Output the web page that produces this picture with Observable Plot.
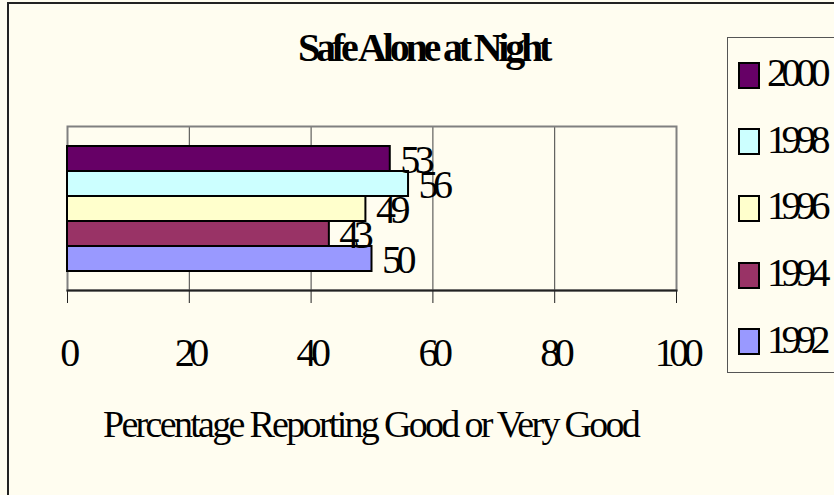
<!DOCTYPE html>
<html><head><meta charset="utf-8">
<script src="https://cdn.jsdelivr.net/npm/d3@7"></script>
<script src="https://cdn.jsdelivr.net/npm/@observablehq/plot@0.6"></script>
<style>
html,body{margin:0;padding:0;background:#fffdf0;}
#wrap{position:relative;width:834px;height:495px;overflow:hidden;background:#fffdf0;font-family:"Liberation Serif","Times New Roman",serif;color:#000;}
#outer{position:absolute;left:7px;top:2px;width:900px;height:600px;border-left:2px solid #222;border-top:2px solid #222;}
#chart{position:absolute;left:0;top:0;}
.chart text{font-family:"Liberation Serif",serif;font-size:40px;letter-spacing:-5.5px;fill:#000;}
#title{position:absolute;left:298px;top:28px;font-size:40px;line-height:40px;font-weight:bold;letter-spacing:-4.2px;white-space:nowrap;}
#xlabel{position:absolute;left:103px;top:405px;font-size:38px;line-height:38px;letter-spacing:-2.7px;white-space:nowrap;}
#legend{position:absolute;left:727px;top:37px;width:140px;height:336px;border:1px solid #555;box-sizing:border-box;padding-top:4px;}
.item{height:66.6px;display:flex;align-items:center;}
.sw{width:22px;height:27px;border:2px solid #000;box-sizing:border-box;margin-left:10px;margin-right:7px;flex:none;}
.lab{font-size:40px;line-height:40px;letter-spacing:-5.5px;position:relative;top:-2px;}
</style></head>
<body>
<div id="wrap">
  <div id="outer"></div>
  <div id="chart"></div>
  <div id="title">Safe Alone at Night</div>
  <div id="xlabel">Percentage Reporting Good or Very Good</div>
  <div id="legend"></div>
</div>
<script>
const years = ["1992", "1994", "1996", "1998", "2000"];
const values = [50, 43, 49, 56, 53];
const colors = ["#9999FF", "#993366", "#FFFFCC", "#CCFFFF", "#660066"];
const xTicks = [0, 20, 40, 60, 80, 100];
const titleText = "Safe Alone at Night";
const xLabelText = "Percentage Reporting Good or Very Good";

const data = years.map((y, i) => ({year: y, value: values[i]}));

const chart = Plot.plot({
  width: 834, height: 495,
  marginLeft: 67, marginRight: 158, marginTop: 126, marginBottom: 205,
  className: "chart",
  style: {background: "transparent", overflow: "visible"},
  x: {domain: [0, 100]},
  y: {domain: years.slice().reverse(), paddingInner: 0, paddingOuter: 0.7, axis: null},
  color: {domain: years, range: colors},
  marks: [
    Plot.ruleX(xTicks.slice(1, -1), {stroke: "#404040", strokeWidth: 1}),
    Plot.frame({stroke: "#808080", strokeWidth: 2}),
    Plot.barX(data, {x: "value", y: "year", fill: "year", stroke: "#000", strokeWidth: 2}),
    Plot.text(data, {x: "value", y: "year", text: d => String(d.value), textAnchor: "start", dx: 10, dy: 1, fontSize: 40}),
    Plot.frame({anchor: "bottom", stroke: "#222", strokeWidth: 2}),
    Plot.axisX({ticks: xTicks, tickSize: 13, tickPadding: 34, tickFormat: d => String(d), stroke: "#222", fontSize: 40, label: null})
  ]
});
document.getElementById("chart").appendChild(chart);
document.getElementById("title").textContent = titleText;
document.getElementById("xlabel").textContent = xLabelText;

const legend = d3.select("#legend");
years.slice().reverse().forEach(y => {
  const i = years.indexOf(y);
  const item = legend.append("div").attr("class", "item");
  item.append("div").attr("class", "sw").style("background", colors[i]);
  item.append("div").attr("class", "lab").text(y);
});
</script>
</body></html>
